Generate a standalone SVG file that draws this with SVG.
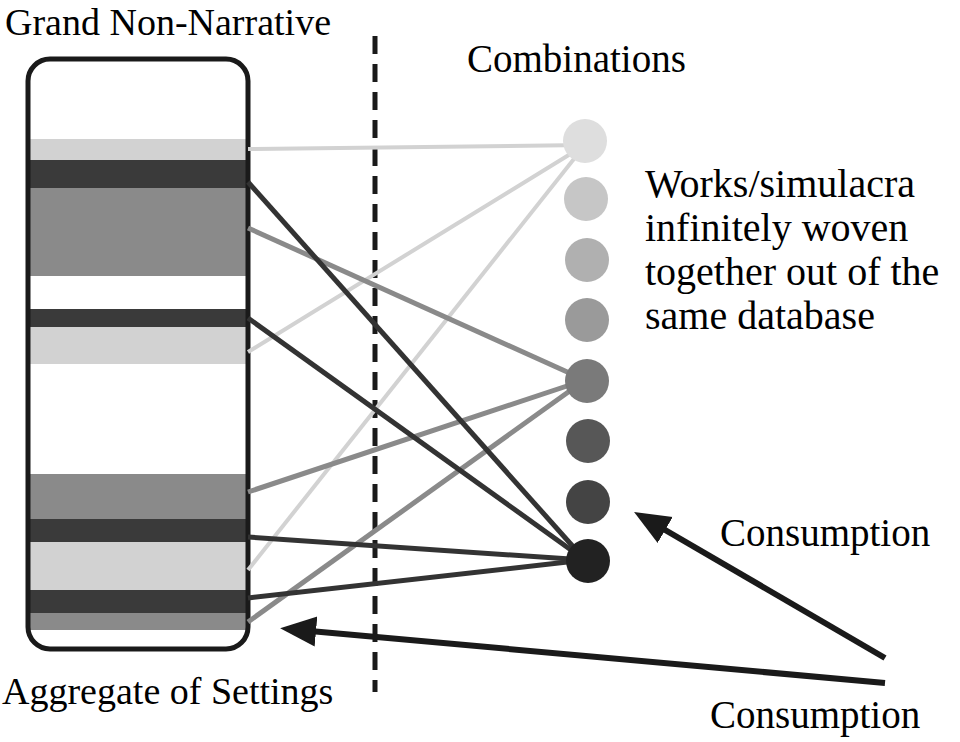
<svg xmlns="http://www.w3.org/2000/svg" width="960" height="742" viewBox="0 0 960 742">
<style>
text{font-family:"Liberation Serif",serif;fill:#000}
.t{font-size:38px}
.c{font-size:39px}
.s{font-size:40px}
.dk{fill:#3a3a3a}.md{fill:#8a8a8a}.lt{fill:#d2d2d2}
.ld{stroke:#333;stroke-width:5}.lm{stroke:#8a8a8a;stroke-width:5}.ll{stroke:#d2d2d2;stroke-width:4}
</style>
<defs><marker id="ah" markerWidth="6" markerHeight="6" refX="1" refY="3" orient="auto" markerUnits="strokeWidth"><path d="M0,0.5 L6,3 L0,5.5 Z" fill="#1a1a1a"/></marker></defs>
<rect width="960" height="742" fill="#fff"/>
<g id="settings">
<rect class="lt" x="29" y="139" width="218" height="21"/>
<rect class="dk" x="29" y="160" width="218" height="28"/>
<rect class="md" x="29" y="188" width="218" height="88"/>
<rect class="dk" x="29" y="309" width="218" height="18"/>
<rect class="lt" x="29" y="327" width="218" height="37"/>
<rect class="md" x="29" y="474" width="218" height="45"/>
<rect class="dk" x="29" y="519" width="218" height="23"/>
<rect class="lt" x="29" y="542" width="218" height="48"/>
<rect class="dk" x="29" y="590" width="218" height="23"/>
<rect class="md" x="29" y="613" width="218" height="17"/>
<rect x="28" y="59" width="220" height="590" rx="22" fill="none" stroke="#1a1a1a" stroke-width="5"/>
</g>
<g id="divider"><line x1="375" y1="36" x2="375" y2="692" stroke="#1a1a1a" stroke-width="5" stroke-dasharray="18 10"/></g>
<g id="connectors">
<line class="ll" x1="248" y1="149" x2="585" y2="145"/>
<line class="ll" x1="248" y1="352" x2="585" y2="145"/>
<line class="ll" x1="248" y1="570" x2="585" y2="145"/>
<line class="lm" x1="248" y1="228" x2="585" y2="380"/>
<line class="lm" x1="248" y1="492" x2="585" y2="380"/>
<line class="lm" x1="248" y1="622" x2="585" y2="380"/>
<line class="ld" x1="248" y1="182" x2="585" y2="560"/>
<line class="ld" x1="248" y1="318" x2="585" y2="560"/>
<line class="ld" x1="248" y1="537" x2="585" y2="560"/>
<line class="ld" x1="248" y1="598" x2="585" y2="560"/>
<line x1="885" y1="658" x2="660" y2="527" stroke="#1a1a1a" stroke-width="6" marker-end="url(#ah)"/>
<line x1="885" y1="683" x2="310" y2="631" stroke="#1a1a1a" stroke-width="6" marker-end="url(#ah)"/>
</g>
<g id="combinations">
<circle cx="585" cy="141" r="22" fill="#dedede"/>
<circle cx="586" cy="199" r="22" fill="#c6c6c6"/>
<circle cx="587" cy="260" r="22" fill="#b0b0b0"/>
<circle cx="587" cy="320" r="22" fill="#9a9a9a"/>
<circle cx="587" cy="381" r="22" fill="#7a7a7a"/>
<circle cx="588" cy="441" r="22" fill="#575757"/>
<circle cx="588" cy="502" r="22" fill="#444"/>
<circle cx="588" cy="561" r="22" fill="#222"/>
</g>
<g id="labels">
<text class="t" x="5" y="35">Grand Non-Narrative</text>
<text class="c" x="467" y="72">Combinations</text>
<text class="s" x="645" y="197">Works/simulacra</text>
<text class="s" x="645" y="241">infinitely woven</text>
<text class="s" x="645" y="285">together out of the</text>
<text class="s" x="645" y="329">same database</text>
<text class="c" x="720" y="546">Consumption</text>
<text class="c" x="710" y="728">Consumption</text>
<text class="t" x="2" y="704">Aggregate of Settings</text>
</g>
</svg>
